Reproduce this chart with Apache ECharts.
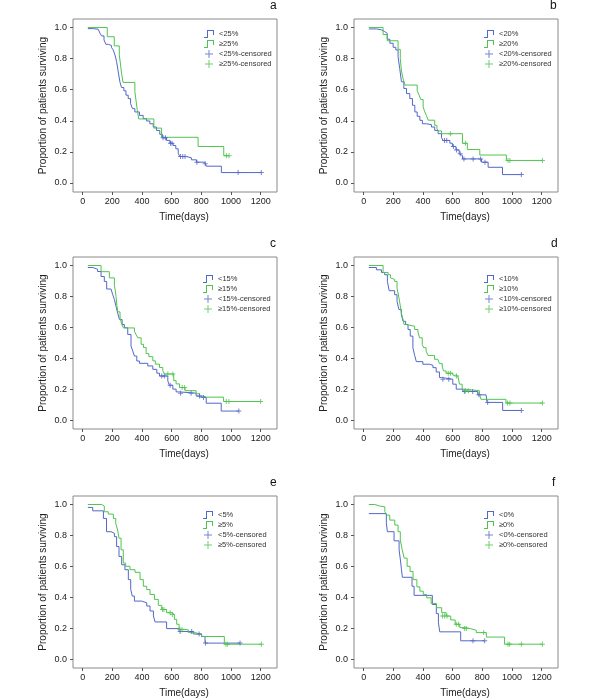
<!DOCTYPE html>
<html>
<head>
<meta charset="utf-8">
<script src="https://cdn.jsdelivr.net/npm/echarts@6/dist/echarts.min.js"></script>
<style>html,body{margin:0;padding:0;background:#fff;}#c{width:600px;height:700px;}</style>
</head>
<body>
<div id="c"></div>
<script>
// ---------- data ----------
const xTicks = [0, 200, 400, 600, 800, 1000, 1200];
const yTicks = [0, 0.2, 0.4, 0.6, 0.8, 1.0];
const panelLetters = ['a', 'b', 'c', 'd', 'e', 'f'];
const xName = 'Time(days)';
const yName = 'Proportion of patients surviving';

const aLabels = ['<25%', '≥25%', '<25%-censored', '≥25%-censored'];
const bLabels = ['<20%', '≥20%', '<20%-censored', '≥20%-censored'];
const cLabels = ['<15%', '≥15%', '<15%-censored', '≥15%-censored'];
const dLabels = ['<10%', '≥10%', '<10%-censored', '≥10%-censored'];
const eLabels = ['<5%', '≥5%', '<5%-censored', '≥5%-censored'];
const fLabels = ['<0%', '≥0%', '<0%-censored', '≥0%-censored'];

// panel a
const aLess = [[35,0.993],[72,0.989],[105,0.978],[117,0.963],[128,0.946],[144,0.92],[157,0.892],[173,0.884],[195,0.871],[206,0.856],[218,0.823],[229,0.78],[238,0.726],[251,0.651],[262,0.614],[278,0.593],[292,0.565],[307,0.543],[323,0.511],[336,0.478],[352,0.457],[383,0.435],[408,0.414],[431,0.399],[453,0.381],[476,0.36],[498,0.338],[520,0.313],[538,0.291],[565,0.274],[588,0.256],[610,0.241],[628,0.22],[644,0.192],[655,0.17],[700,0.162],[733,0.149],[767,0.134],[823,0.123],[834,0.108],[935,0.067],[1204,0.067]];
const aLessCens = [[542,0.291],[558,0.291],[592,0.256],[602,0.256],[660,0.17],[675,0.17],[690,0.17],[770,0.134],[826,0.123],[1048,0.067],[1204,0.067]];
const aMore = [[35,1.0],[166,0.941],[213,0.882],[247,0.824],[255,0.765],[262,0.706],[272,0.647],[352,0.588],[360,0.529],[368,0.471],[378,0.412],[480,0.353],[532,0.294],[778,0.235],[951,0.176],[987,0.176]];
const aMoreCens = [[969,0.176],[987,0.176]];

// panel b
const bLess = [[35,0.991],[87,0.985],[120,0.974],[142,0.963],[159,0.925],[177,0.899],[199,0.873],[217,0.856],[232,0.812],[243,0.737],[255,0.651],[271,0.608],[289,0.575],[311,0.543],[329,0.5],[345,0.457],[361,0.429],[379,0.403],[396,0.381],[423,0.375],[457,0.36],[479,0.338],[502,0.317],[525,0.291],[535,0.274],[581,0.256],[598,0.235],[622,0.213],[644,0.188],[656,0.177],[666,0.155],[794,0.134],[839,0.101],[936,0.054],[1063,0.054]];
const bLessCens = [[545,0.274],[560,0.274],[605,0.235],[626,0.213],[651,0.188],[676,0.155],[738,0.155],[788,0.155],[818,0.134],[1063,0.054]];
const bMore = [[35,1.0],[131,0.955],[159,0.915],[232,0.86],[247,0.8],[255,0.72],[266,0.67],[279,0.63],[361,0.593],[374,0.565],[385,0.537],[401,0.489],[412,0.457],[423,0.435],[435,0.404],[479,0.371],[494,0.349],[506,0.335],[525,0.317],[666,0.255],[699,0.215],[783,0.18],[962,0.145],[1205,0.145]];
const bMoreCens = [[585,0.317],[686,0.255],[973,0.145],[986,0.145],[1205,0.145]];

// panel c
const cLess = [[35,0.987],[68,0.976],[101,0.961],[124,0.929],[146,0.897],[162,0.848],[191,0.843],[203,0.811],[214,0.779],[225,0.736],[236,0.693],[248,0.65],[266,0.618],[281,0.597],[304,0.554],[326,0.479],[338,0.446],[349,0.414],[365,0.382],[383,0.367],[439,0.35],[473,0.328],[500,0.303],[518,0.285],[574,0.253],[585,0.225],[608,0.2],[630,0.182],[653,0.174],[765,0.155],[810,0.146],[833,0.109],[934,0.058],[1053,0.058]];
const cLessCens = [[533,0.285],[551,0.285],[590,0.225],[660,0.174],[731,0.174],[788,0.155],[815,0.146],[1053,0.058]];
const cMore = [[35,1.0],[124,0.96],[180,0.92],[214,0.87],[220,0.84],[225,0.8],[231,0.74],[237,0.7],[252,0.66],[264,0.62],[275,0.596],[349,0.574],[360,0.553],[372,0.532],[394,0.49],[410,0.47],[428,0.43],[446,0.41],[473,0.383],[490,0.362],[518,0.34],[540,0.32],[551,0.298],[614,0.255],[630,0.234],[653,0.21],[690,0.19],[765,0.17],[788,0.148],[950,0.12],[1200,0.12]];
const cMoreCens = [[574,0.298],[608,0.298],[671,0.21],[687,0.21],[968,0.12],[986,0.12],[1200,0.12]];

// panel d
const dLess = [[35,0.987],[86,0.972],[120,0.955],[142,0.94],[160,0.897],[172,0.837],[209,0.811],[225,0.768],[238,0.715],[254,0.682],[266,0.639],[283,0.618],[299,0.586],[314,0.543],[332,0.468],[344,0.418],[355,0.378],[399,0.361],[445,0.354],[467,0.339],[489,0.311],[511,0.275],[525,0.264],[601,0.232],[624,0.2],[668,0.185],[769,0.163],[825,0.155],[832,0.114],[937,0.062],[1063,0.062]];
const dLessCens = [[534,0.264],[574,0.264],[679,0.185],[735,0.185],[777,0.163],[836,0.114],[1063,0.062]];
const dMore = [[35,1.0],[131,0.955],[165,0.94],[181,0.92],[194,0.91],[209,0.897],[225,0.854],[238,0.79],[247,0.74],[254,0.693],[266,0.65],[272,0.618],[288,0.607],[344,0.586],[366,0.569],[377,0.532],[395,0.489],[404,0.468],[421,0.446],[434,0.418],[478,0.393],[500,0.382],[511,0.365],[530,0.343],[539,0.318],[556,0.303],[601,0.29],[619,0.285],[635,0.275],[646,0.232],[664,0.2],[679,0.19],[780,0.17],[791,0.134],[959,0.11],[1205,0.11]];
const dMoreCens = [[570,0.303],[585,0.303],[626,0.285],[686,0.19],[706,0.19],[970,0.11],[986,0.11],[1205,0.11]];

// panel e
const eLess = [[35,0.981],[68,0.959],[140,0.91],[161,0.824],[191,0.814],[214,0.792],[229,0.728],[245,0.664],[263,0.61],[285,0.578],[308,0.514],[324,0.45],[335,0.407],[349,0.375],[398,0.364],[432,0.343],[454,0.311],[477,0.279],[488,0.24],[566,0.197],[650,0.178],[746,0.162],[802,0.146],[825,0.103],[1061,0.103]];
const eLessCens = [[657,0.178],[735,0.178],[785,0.162],[828,0.103],[1061,0.103]];
const eMore = [[35,1.0],[129,0.99],[146,0.953],[173,0.938],[207,0.91],[223,0.878],[236,0.835],[245,0.782],[259,0.707],[274,0.621],[290,0.6],[319,0.578],[353,0.561],[387,0.514],[409,0.471],[432,0.45],[454,0.418],[484,0.386],[510,0.347],[533,0.321],[566,0.3],[600,0.289],[618,0.257],[634,0.225],[650,0.193],[667,0.189],[712,0.171],[757,0.16],[802,0.146],[955,0.096],[1205,0.096]];
const eMoreCens = [[538,0.321],[548,0.321],[590,0.3],[605,0.289],[655,0.193],[670,0.189],[966,0.096],[977,0.096],[1205,0.096]];

// panel f
const fLess = [[35,0.941],[153,0.882],[160,0.824],[205,0.765],[239,0.706],[247,0.647],[254,0.588],[261,0.529],[326,0.471],[340,0.412],[463,0.353],[490,0.294],[504,0.235],[513,0.176],[654,0.118],[816,0.118]];
const fLessCens = [[737,0.118],[816,0.118]];
const fMore = [[35,1.0],[75,0.99],[108,0.985],[143,0.953],[154,0.931],[176,0.899],[210,0.867],[232,0.824],[247,0.771],[260,0.707],[273,0.653],[293,0.6],[313,0.567],[333,0.514],[359,0.467],[379,0.439],[402,0.418],[425,0.396],[455,0.36],[491,0.332],[526,0.3],[556,0.278],[587,0.253],[617,0.225],[648,0.203],[688,0.197],[719,0.186],[759,0.171],[827,0.142],[950,0.096],[1205,0.096]];
const fMoreCens = [[531,0.278],[546,0.278],[562,0.278],[624,0.225],[640,0.225],[681,0.197],[692,0.197],[809,0.171],[973,0.096],[984,0.096],[1063,0.096],[1205,0.096]];

// ---------- chart ----------
const BLUE = '#5367c9';
const GREEN = '#4fc44f';
const FONT = '"Liberation Sans", Arial, sans-serif';
const STEP_ICON = 'path://M0,7H3V0H10V5H9V1H4V8H0Z';
const PLUS_ICON = 'path://M3.5,0H4.5V3.5H8V4.5H4.5V8H3.5V4.5H0V3.5H3.5Z';
const PLUS_MARK = 'path://M2,0H3V2H5V3H3V5H2V3H0V2H2Z';

const panels = [
  {less: aLess, more: aMore, lessC: aLessCens, moreC: aMoreCens, labels: aLabels},
  {less: bLess, more: bMore, lessC: bLessCens, moreC: bMoreCens, labels: bLabels},
  {less: cLess, more: cMore, lessC: cLessCens, moreC: cMoreCens, labels: cLabels},
  {less: dLess, more: dMore, lessC: dLessCens, moreC: dMoreCens, labels: dLabels},
  {less: eLess, more: eMore, lessC: eLessCens, moreC: eMoreCens, labels: eLabels},
  {less: fLess, more: fMore, lessC: fLessCens, moreC: fMoreCens, labels: fLabels}
];

const gridLeft = [73, 354];
const gridTop = [19, 257, 496];
const gridH = [173, 172, 172];
const legendPos = [[204, 30], [484, 30], [203, 275], [484, 275], [203, 511], [484, 511]];
const titlePos = [[270, 0], [550, 0], [270, 238], [551, 238], [270, 477], [552, 477]];

const grid = [], xAxis = [], yAxis = [], series = [], legend = [], title = [];
panels.forEach((p, i) => {
  const col = i % 2, row = Math.floor(i / 2);
  grid.push({left: gridLeft[col], top: gridTop[row], width: 204, height: gridH[row],
    show: true, borderColor: '#8a8a8a', borderWidth: 1, backgroundColor: 'transparent', containLabel: false});
  xAxis.push({type: 'value', gridIndex: i, min: -65, max: 1310,
    name: xName, nameLocation: 'middle', nameGap: 20,
    nameTextStyle: {fontSize: 10, color: '#222', fontFamily: FONT, padding: [0, 0, 0, 18]},
    axisLine: {show: false, onZero: false},
    axisTick: {show: true, inside: false, length: 3, customValues: xTicks, lineStyle: {color: '#555', width: 1}},
    axisLabel: {customValues: xTicks, fontSize: 9, color: '#222', fontFamily: FONT, margin: 5,
      formatter: v => String(Math.round(v))},
    splitLine: {show: false}});
  yAxis.push({type: 'value', gridIndex: i, min: -0.058, max: 1.055,
    name: yName, nameLocation: 'middle', nameGap: 25,
    nameTextStyle: {fontSize: 10, color: '#222', fontFamily: FONT},
    axisLine: {show: false, onZero: false},
    axisTick: {show: true, inside: false, length: 3, customValues: yTicks, lineStyle: {color: '#555', width: 1}},
    axisLabel: {customValues: yTicks, fontSize: 9, color: '#222', fontFamily: FONT, margin: 6,
      formatter: v => Number(v).toFixed(1)},
    splitLine: {show: false}});
  const [l0, l1, l2, l3] = p.labels;
  series.push({type: 'line', name: l0, xAxisIndex: i, yAxisIndex: i, data: p.less, step: 'end',
    showSymbol: false, symbol: 'none', lineStyle: {color: BLUE, width: 1}, itemStyle: {color: BLUE}, silent: true, z: 2});
  series.push({type: 'line', name: l1, xAxisIndex: i, yAxisIndex: i, data: p.more, step: 'end',
    showSymbol: false, symbol: 'none', lineStyle: {color: GREEN, width: 1}, itemStyle: {color: GREEN}, silent: true, z: 3});
  series.push({type: 'scatter', name: l2, xAxisIndex: i, yAxisIndex: i, data: p.lessC,
    symbol: PLUS_MARK, symbolSize: 5, itemStyle: {color: BLUE}, silent: true, z: 4});
  series.push({type: 'scatter', name: l3, xAxisIndex: i, yAxisIndex: i, data: p.moreC,
    symbol: PLUS_MARK, symbolSize: 5, itemStyle: {color: GREEN}, silent: true, z: 4});
  legend.push({left: legendPos[i][0], top: legendPos[i][1], orient: 'vertical', padding: 0,
    itemWidth: 10, itemHeight: 8, itemGap: 2, selectedMode: false,
    textStyle: {fontSize: 7.5, color: '#333', fontFamily: FONT, lineHeight: 8},
    itemStyle: {borderWidth: 0},
    data: [
      {name: l0, icon: STEP_ICON, itemStyle: {color: BLUE, borderWidth: 0}},
      {name: l1, icon: STEP_ICON, itemStyle: {color: GREEN, borderWidth: 0}},
      {name: l2, icon: PLUS_ICON, itemStyle: {color: BLUE, borderWidth: 0}},
      {name: l3, icon: PLUS_ICON, itemStyle: {color: GREEN, borderWidth: 0}}
    ]});
  title.push({text: panelLetters[i], left: titlePos[i][0], top: titlePos[i][1], padding: 0,
    textStyle: {fontSize: 12, fontWeight: 'normal', color: '#111', fontFamily: FONT}});
});

const chart = echarts.init(document.getElementById('c'), null, {renderer: 'canvas'});
chart.setOption({animation: false, backgroundColor: '#fff', title, grid, xAxis, yAxis, legend, series});
</script>
</body>
</html>
